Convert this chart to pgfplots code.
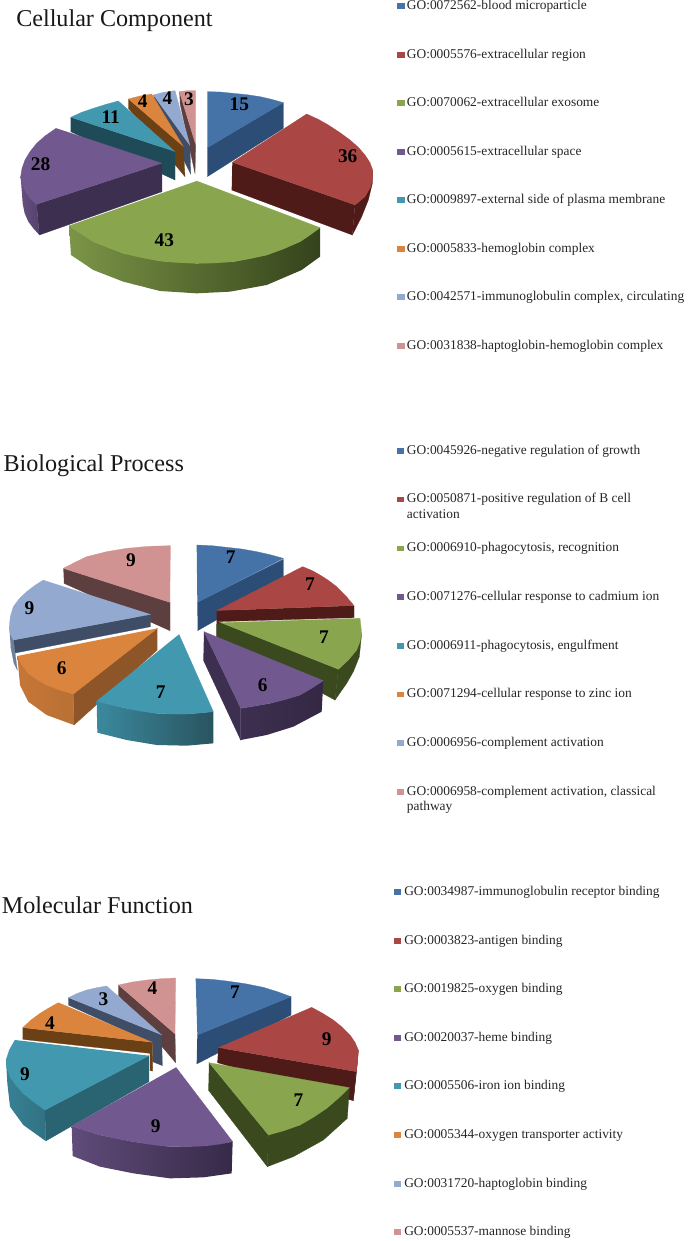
\documentclass[border=0pt]{standalone}
\usepackage{pgfplots}
\pgfplotsset{compat=1.18}
\usepackage{fontspec}
\setmainfont{Liberation Serif}
\definecolor{bT}{HTML}{4572A7}\definecolor{bS}{HTML}{2C4D75}
\definecolor{rT}{HTML}{AA4643}\definecolor{rS}{HTML}{4E1B18}
\definecolor{gT}{HTML}{89A54E}\definecolor{gS}{HTML}{3A4A1E}
\definecolor{pT}{HTML}{71588F}\definecolor{pS}{HTML}{3D2F50}
\definecolor{tT}{HTML}{4198AF}\definecolor{tS}{HTML}{1E4B57}
\definecolor{oT}{HTML}{DB843D}\definecolor{oS}{HTML}{6C4015}
\definecolor{lT}{HTML}{93A9CF}\definecolor{lS}{HTML}{3F4E66}
\definecolor{kT}{HTML}{D19392}\definecolor{kS}{HTML}{5D3F3F}
\pgfplotsset{
 pane/.style={hide axis,scale only axis,width=516pt,xmin=0,xmax=2064,ymin=0,y dir=reverse,clip=false,anchor=north west},
}
\newcommand{\poly}[2]{\addplot[fill=#1,draw=#1,line width=0.2pt] coordinates {#2};}
\newcommand{\grad}[3]{\addplot[left color=#1,right color=#2,draw=none] coordinates {#3};}
\newcommand{\lab}[3]{\node[font=\fontsize{14.5}{16}\selectfont\bfseries,text=black] at (axis cs:#1,#2) {#3};}
\newcommand{\ttl}[3]{\node[anchor=base west,inner sep=0pt,font=\fontsize{18.1}{20}\selectfont,text=black!90] at (axis cs:#1,#2) {#3};}
\tikzset{legtxt/.style={anchor=base west,inner sep=0pt,yshift=-2.6pt,font=\fontsize{10.05}{12}\selectfont,text=black!85}}
% colour, swatch x1, x2, y top, y bottom, text x, y, text
\newcommand{\leg}[8]{\addplot[fill=#1,draw=none] coordinates {(#2,#4) (#3,#4) (#3,#5) (#2,#5)};
 \node[legtxt] at (axis cs:#6,#7) {#8};}
\begin{document}
\begin{tikzpicture}
% ---------- Cellular Component ----------
\begin{axis}[pane,height=330pt,ymax=1320,at={(0pt,0pt)}]
\addplot[fill=white,draw=none] coordinates {(0,0) (2064,0) (2064,1320) (0,1320)};
\ttl{48}{80}{Cellular Component}
\poly{kS}{(538,275) (587,435) (585,520) (540,310)}
\poly{kT}{(538,275) (562,272) (587,272) (587,435)}
\poly{lS}{(460,285) (570,437) (572,522) (462,300)}
\poly{lT}{(460,285) (490,277) (525,272) (570,437)}
\poly{oS}{(385,297) (550,440) (555,530) (385,325)}
\poly{oT}{(385,297) (420,288) (455,282) (550,440)}
\poly{tS}{(212,352) (525,455) (525,540) (212,395)}
\poly{tT}{(212,352) (245,337) (280,325) (318,313) (355,303) (525,455)}
\poly{pS}{(486,490) (110,613) (118,705) (486,575)}
\grad{pT!90!black}{pT!75!black}{(62,530) (75,570) (90,593) (110,613) (118,705) (100,685) (85,665) (74,640) (68,610)}
\poly{pT}{(486,490) (168,385) (135,408) (110,430) (90,455) (75,480) (66,505) (62,530) (65,552) (75,570) (90,593) (110,613)}
\poly{bS}{(622,443) (850,308) (850,385) (622,530)}
\poly{bT}{(622,275) (660,276) (700,280) (740,284) (780,290) (815,298) (850,308) (622,443)}
\poly{rS}{(697,487) (1065,615) (1057,705) (695,570)}
\poly{rS}{(1065,615) (1095,590) (1112,560) (1118,510) (1117,550) (1105,600) (1085,650) (1057,705)}
\poly{rT}{(697,487) (920,342) (955,358) (985,375) (1020,398) (1050,420) (1075,442) (1095,465) (1110,488) (1118,510) (1118,535) (1112,560) (1095,590) (1065,615)}
\grad{gT!90!black}{gS!90!black}{(207,677) (280,725) (370,760) (480,783) (590,790) (700,785) (800,765) (900,725) (960,683) (960,770) (905,810) (800,855) (690,875) (590,880) (480,873) (370,845) (280,810) (213,765)}
\poly{gT}{(590,543) (960,683) (930,705) (900,725) (850,747) (800,765) (750,776) (700,785) (645,789) (590,790) (535,788) (480,783) (425,773) (370,760) (325,743) (280,725) (240,700) (207,677)}
\lab{718}{312}{15}\lab{1043}{470}{36}\lab{493}{722}{43}\lab{122}{492}{28}
\lab{332}{350}{11}\lab{428}{303}{4}\lab{502}{293}{4}\lab{567}{297}{3}
\leg{bT}{1192}{1214}{9}{27}{1220}{18}{GO:0072562-blood microparticle}
\leg{rT}{1192}{1214}{156}{174}{1220}{165}{GO:0005576-extracellular region}
\leg{gT}{1192}{1214}{299}{317}{1220}{308}{GO:0070062-extracellular exosome}
\leg{pT}{1192}{1214}{446}{464}{1220}{455}{GO:0005615-extracellular space}
\leg{tT}{1192}{1214}{591}{609}{1220}{600}{GO:0009897-external side of plasma membrane}
\leg{oT}{1192}{1214}{737}{755}{1220}{746}{GO:0005833-hemoglobin complex}
\leg{lT}{1192}{1214}{881}{899}{1220}{890}{GO:0042571-immunoglobulin complex, circulating}
\leg{kT}{1192}{1214}{1029}{1047}{1220}{1038}{GO:0031838-haptoglobin-hemoglobin complex}
\end{axis}
% ---------- Biological Process ----------
\begin{axis}[pane,height=330pt,ymax=1320,at={(0pt,-330pt)}]
\addplot[fill=white,draw=none] coordinates {(0,0) (2064,0) (2064,1320) (0,1320)};
\ttl{10}{95}{Biological Process}
\poly{kS}{(190,385) (510,487) (510,572) (192,430)}
\poly{kT}{(510,487) (190,385) (225,367) (260,350) (320,335) (380,325) (445,319) (512,317)}
\poly{bS}{(592,487) (850,358) (850,425) (593,572)}
\poly{bT}{(590,315) (635,317) (680,322) (725,327) (770,335) (810,344) (850,355) (592,487)}
\poly{lS}{(452,523) (40,600) (40,640) (452,560)}
\poly{lT!75!black}{(28,560) (40,600) (52,690) (42,670) (32,620)}
\poly{lT}{(452,523) (40,600) (30,580) (28,560) (31,530) (40,500) (58,476) (80,455) (105,436) (130,420)}
\poly{rS}{(650,512) (1062,497) (1062,533) (650,545)}
\poly{rT}{(650,512) (908,380) (935,391) (960,405) (985,421) (1010,440) (1037,467) (1062,497)}
\poly{oT!65!black}{(472,565) (220,762) (222,855) (472,630)}
\grad{oT!90!black}{oT!85!black}{(52,648) (85,700) (140,735) (220,762) (222,855) (140,825) (85,785) (60,735)}
\poly{oT}{(472,565) (220,762) (178,750) (140,735) (110,718) (85,700) (66,675) (52,648)}
\poly{rS}{(650,545) (662,548) (662,595) (650,590)}
\poly{gS}{(662,548) (1015,688) (1005,780) (650,590) (650,552)}
\poly{gS}{(1085,580) (1078,650) (1060,695) (1040,730) (1005,780) (1015,688) (1045,660) (1070,630)}
\poly{gT}{(662,548) (1080,535) (1085,580) (1080,605) (1070,630) (1045,660) (1015,688)}
\poly{pS}{(612,575) (722,805) (722,900) (610,660)}
\grad{pS}{pS!85!black}{(970,722) (900,765) (810,790) (722,805) (722,900) (800,885) (880,860) (965,815)}
\poly{pT}{(612,575) (970,722) (935,745) (900,765) (855,779) (810,790) (765,798) (722,805)}
\grad{tT!90!black}{tS!95!white}{(290,783) (380,805) (470,820) (560,822) (640,815) (640,910) (560,917) (470,915) (380,900) (292,878)}
\poly{tT}{(537,583) (640,815) (600,819) (560,822) (515,822) (470,820) (425,814) (380,805) (335,795) (290,783)}
\lab{692}{352}{7}\lab{930}{433}{7}\lab{972}{592}{7}\lab{788}{735}{6}
\lab{482}{757}{7}\lab{185}{685}{6}\lab{88}{505}{9}\lab{393}{360}{9}
\leg{bT}{1192}{1212}{24}{41}{1220}{32}{GO:0045926-negative regulation of growth}
\leg{rT}{1192}{1212}{170}{187}{1220}{178}{GO:0050871-positive regulation of B cell}
\node[legtxt] at (axis cs:1220,224) {activation};
\leg{gT}{1192}{1212}{317}{334}{1220}{325}{GO:0006910-phagocytosis, recognition}
\leg{pT}{1192}{1212}{462}{479}{1220}{470}{GO:0071276-cellular response to cadmium ion}
\leg{tT}{1192}{1212}{609}{626}{1220}{617}{GO:0006911-phagocytosis, engulfment}
\leg{oT}{1192}{1212}{755}{772}{1220}{763}{GO:0071294-cellular response to zinc ion}
\leg{lT}{1192}{1212}{901}{918}{1220}{909}{GO:0006956-complement activation}
\leg{kT}{1192}{1212}{1047}{1064}{1220}{1055}{GO:0006958-complement activation, classical}
\node[legtxt] at (axis cs:1220,1101) {pathway};
\end{axis}
% ---------- Molecular Function ----------
\begin{axis}[pane,height=270.75pt,ymax=1083,at={(0pt,-660pt)}]
\addplot[fill=white,draw=none] coordinates {(0,0) (2064,0) (2064,1083) (0,1083)};
\ttl{5}{100}{Molecular Function}
\poly{kS}{(355,315) (525,462) (527,548) (355,345)}
\poly{kT}{(355,315) (397,306) (440,300) (484,296) (527,294) (525,462)}
\poly{lS}{(205,353) (485,465) (487,557) (458,545) (458,490) (205,375)}
\poly{lT}{(205,353) (232,340) (260,330) (290,323) (320,318) (485,465)}
\poly{oS}{(68,443) (457,487) (458,573) (450,572) (450,520) (68,478)}
\poly{oT}{(68,443) (93,420) (120,400) (148,383) (175,368) (457,487)}
\poly{bS}{(592,465) (873,350) (873,405) (590,552)}
\poly{bT}{(587,296) (635,298) (680,303) (735,311) (790,322) (832,335) (873,350) (592,465)}
\poly{rS}{(655,503) (1068,575) (1060,662) (652,548)}
\poly{rS}{(1075,510) (1072,550) (1068,590) (1060,662) (1068,575)}
\poly{rT}{(655,503) (935,382) (968,400) (1000,420) (1027,442) (1050,465) (1065,487) (1075,510) (1073,545) (1068,575)}
\poly{tT!65!black}{(447,527) (135,690) (137,783) (447,605)}
\grad{tT!85!black}{tT!75!black}{(18,540) (30,590) (70,640) (135,690) (137,783) (70,735) (30,680) (22,610)}
\poly{tT}{(447,527) (135,690) (100,665) (70,640) (47,615) (30,590) (21,565) (18,540) (28,510) (45,480)}
\poly{gS}{(627,548) (805,765) (802,860) (625,630)}
\poly{gS}{(1048,623) (1042,715) (970,780) (880,830) (802,860) (805,765) (900,735) (980,685)}
\poly{gT}{(627,548) (1048,623) (1015,655) (980,685) (940,712) (900,735) (852,752) (805,765)}
\grad{pT!85!black}{pS!90!black}{(215,738) (300,765) (400,785) (510,800) (610,798) (698,785) (695,880) (610,892) (510,895) (400,880) (300,860) (218,828)}
\poly{pT}{(528,562) (698,785) (655,793) (610,798) (560,800) (510,800) (455,794) (400,785) (350,776) (300,765) (257,752) (215,738)}
\lab{705}{335}{7}\lab{980}{477}{9}\lab{895}{660}{7}\lab{467}{738}{9}
\lab{75}{582}{9}\lab{150}{430}{4}\lab{310}{357}{3}\lab{457}{325}{4}
\leg{bT}{1181}{1202}{28}{46}{1212}{37}{GO:0034987-immunoglobulin receptor binding}
\leg{rT}{1181}{1202}{174}{192}{1212}{183}{GO:0003823-antigen binding}
\leg{gT}{1181}{1202}{318}{336}{1212}{327}{GO:0019825-oxygen binding}
\leg{pT}{1181}{1202}{464}{482}{1212}{473}{GO:0020037-heme binding}
\leg{tT}{1181}{1202}{610}{628}{1212}{619}{GO:0005506-iron ion binding}
\leg{oT}{1181}{1202}{756}{774}{1212}{765}{GO:0005344-oxygen transporter activity}
\leg{lT}{1181}{1202}{902}{920}{1212}{911}{GO:0031720-haptoglobin binding}
\leg{kT}{1181}{1202}{1048}{1066}{1212}{1057}{GO:0005537-mannose binding}
\end{axis}
\end{tikzpicture}
\end{document}
